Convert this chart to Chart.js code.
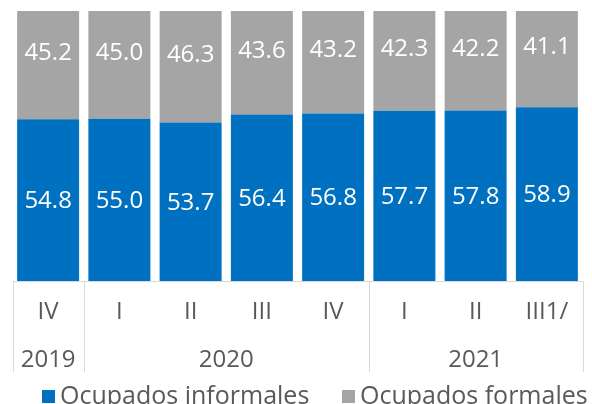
<!DOCTYPE html>
<html>
<head>
<meta charset="utf-8">
<script src="https://cdn.jsdelivr.net/npm/chart.js@4.4.1/dist/chart.umd.min.js"></script>
<style>
  html, body { margin: 0; padding: 0; background: #fff; overflow: hidden; }
  #wrap { width: 592px; height: 404px; }
</style>
</head>
<body>
<div id="wrap"><canvas id="grafico" width="592" height="404"></canvas></div>
<script>
// trimestres y años
const trimestres = ['IV', 'I', 'II', 'III', 'IV', 'I', 'II', 'III1/'];
const anios = ['2019', '2020', '2021'];
const trimestresPorAnio = [1, 4, 3];

// porcentajes de ocupados
const informales = [54.8, 55.0, 53.7, 56.4, 56.8, 57.7, 57.8, 58.9];
const formales = [45.2, 45.0, 46.3, 43.6, 43.2, 42.3, 42.2, 41.1];

const FUENTE = '"Open Sans", sans-serif';
const GRIS_TEXTO = '#595959';
const GRIS_LINEA = '#d9d9d9';

// etiquetas blancas dentro de cada segmento
const etiquetasPlugin = {
  id: 'etiquetas',
  afterDatasetsDraw(chart) {
    const ctx = chart.ctx;
    ctx.save();
    ctx.fillStyle = '#ffffff';
    ctx.font = '24px ' + FUENTE;
    ctx.textAlign = 'center';
    ctx.textBaseline = 'middle';
    chart.data.datasets.forEach((ds, i) => {
      const meta = chart.getDatasetMeta(i);
      meta.data.forEach((bar, j) => {
        const y = (bar.y + bar.base) / 2;
        ctx.fillText(ds.data[j].toFixed(1), bar.x, y + 1);
      });
    });
    ctx.restore();
  }
};

// años, líneas separadoras y leyenda
const ejePlugin = {
  id: 'ejeAnios',
  afterDraw(chart) {
    const ctx = chart.ctx;
    const x = chart.scales.x;
    const area = chart.chartArea;
    const ancho = (x.getPixelForValue(1) - x.getPixelForValue(0));
    const abajo = area.bottom + 91;
    ctx.save();
    ctx.strokeStyle = GRIS_LINEA;
    ctx.lineWidth = 1;
    ctx.beginPath();
    ctx.moveTo(area.left, area.bottom + 0.5);
    ctx.lineTo(area.right, area.bottom + 0.5);
    let inicio = 0;
    const bordes = [x.getPixelForValue(0) - ancho / 2];
    trimestresPorAnio.forEach(n => {
      inicio += n;
      bordes.push(x.getPixelForValue(inicio - 1) + ancho / 2);
    });
    bordes.forEach(b => {
      const px = Math.round(b) + 0.5;
      ctx.moveTo(px, area.bottom);
      ctx.lineTo(px, abajo);
    });
    ctx.stroke();

    ctx.fillStyle = GRIS_TEXTO;
    ctx.font = '24px ' + FUENTE;
    ctx.textAlign = 'center';
    ctx.textBaseline = 'alphabetic';
    anios.forEach((a, i) => {
      ctx.fillText(a, (bordes[i] + bordes[i + 1]) / 2, 367);
    });

    // leyenda
    const posiciones = [42, 342];
    ctx.font = '25px ' + FUENTE;
    ctx.textAlign = 'left';
    chart.data.datasets.forEach((ds, i) => {
      ctx.fillStyle = ds.backgroundColor;
      ctx.fillRect(posiciones[i], 390, 13, 13);
      ctx.fillStyle = GRIS_TEXTO;
      ctx.fillText(ds.label, posiciones[i] + 18, 404);
    });
    ctx.restore();
  }
};

new Chart(document.getElementById('grafico'), {
  type: 'bar',
  data: {
    labels: trimestres,
    datasets: [
      { label: 'Ocupados informales', data: informales, backgroundColor: '#0070c0', clip: 0 },
      { label: 'Ocupados formales', data: formales, backgroundColor: '#a5a5a5', clip: 0 }
    ]
  },
  options: {
    responsive: false,
    animation: false,
    layout: { padding: { top: 11, left: 12.5, right: 9.5, bottom: 32 } },
    datasets: { bar: { categoryPercentage: 1, barPercentage: 0.87 } },
    plugins: { legend: { display: false }, tooltip: { enabled: false } },
    scales: {
      x: {
        stacked: true,
        grid: { display: false, drawTicks: false },
        border: { display: false },
        ticks: { color: GRIS_TEXTO, font: { family: FUENTE, size: 24 }, padding: 17, maxRotation: 0, autoSkip: false },
        afterFit(scale) { scale.height = 91; }
      },
      y: { stacked: true, display: false, min: 0, max: 91.5 }
    }
  },
  plugins: [etiquetasPlugin, ejePlugin]
});
</script>
</body>
</html>
